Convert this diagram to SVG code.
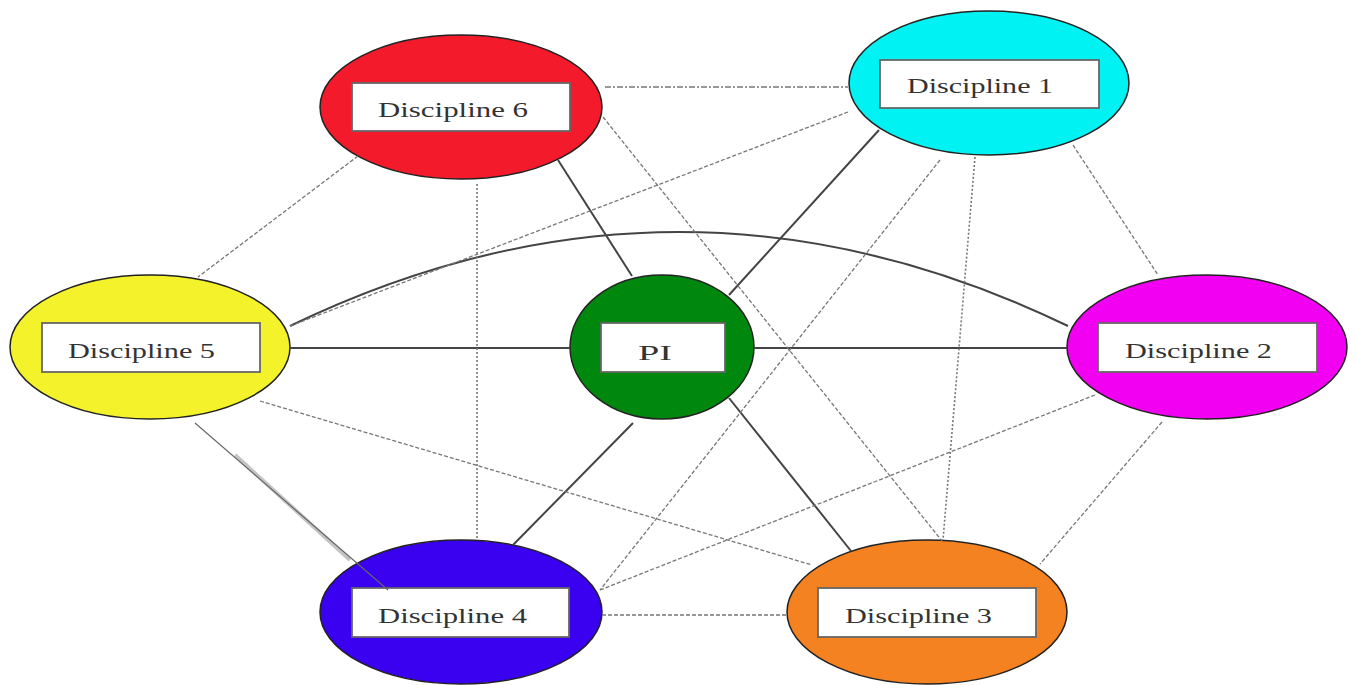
<svg xmlns="http://www.w3.org/2000/svg" width="1357" height="685" viewBox="0 0 1357 685">
<style>
.ell{stroke:#222;stroke-width:1.5}
.box{fill:#fff;stroke:#666;stroke-width:1.8}
.lbl{font-family:"Liberation Serif","Times New Roman",serif;font-size:22px;fill:#333}
.solid{fill:none;stroke:#444;stroke-width:2}
.dash{fill:none;stroke:#777;stroke-width:1.3;stroke-dasharray:4 2}
.dot{fill:none;stroke:#777;stroke-width:1.6;stroke-dasharray:2 2}
.dashdot{fill:none;stroke:#777;stroke-width:1.4;stroke-dasharray:6 2 2 2}
</style>
<rect width="1357" height="685" fill="#fff"/>
<g id="node-d6">
<ellipse class="ell" cx="461" cy="107" rx="141" ry="72" fill="#f31a2b"/>
<rect class="box" x="352" y="83" width="218" height="48"/>
<text class="lbl" x="378" y="117" textLength="150" lengthAdjust="spacingAndGlyphs">Discipline 6</text>
</g>
<g id="node-d1">
<ellipse class="ell" cx="989" cy="83" rx="140" ry="72" fill="#00f2f2"/>
<rect class="box" x="880" y="60" width="219" height="48"/>
<text class="lbl" x="907" y="93" textLength="146" lengthAdjust="spacingAndGlyphs">Discipline 1</text>
</g>
<g id="node-d5">
<ellipse class="ell" cx="150" cy="347" rx="140" ry="72" fill="#f4f22b"/>
<rect class="box" x="42" y="323" width="218" height="49"/>
<text class="lbl" x="68" y="358" textLength="147" lengthAdjust="spacingAndGlyphs">Discipline 5</text>
</g>
<g id="node-pi">
<ellipse class="ell" cx="662" cy="347" rx="92" ry="72" fill="#00880e"/>
<rect class="box" x="601" y="323" width="124" height="49"/>
<text class="lbl" x="638" y="360" textLength="34" lengthAdjust="spacingAndGlyphs">PI</text>
</g>
<g id="node-d2">
<ellipse class="ell" cx="1207" cy="347" rx="140" ry="72" fill="#f200f2"/>
<rect class="box" x="1098" y="323" width="219" height="49"/>
<text class="lbl" x="1125" y="358" textLength="147" lengthAdjust="spacingAndGlyphs">Discipline 2</text>
</g>
<g id="node-d4">
<ellipse class="ell" cx="461" cy="612" rx="141" ry="72" fill="#3a00f0"/>
<rect class="box" x="352" y="588" width="217" height="49"/>
<text class="lbl" x="378" y="623" textLength="149" lengthAdjust="spacingAndGlyphs">Discipline 4</text>
</g>
<g id="node-d3">
<ellipse class="ell" cx="927" cy="612" rx="140" ry="72" fill="#f58220"/>
<rect class="box" x="818" y="588" width="218" height="49"/>
<text class="lbl" x="845" y="623" textLength="147" lengthAdjust="spacingAndGlyphs">Discipline 3</text>
</g>
<g id="connectors">
<line class="solid" x1="290" y1="348" x2="570" y2="348"/>
<line class="solid" x1="754" y1="348" x2="1067" y2="348"/>
<line class="solid" x1="558" y1="160" x2="632" y2="276"/>
<line class="solid" x1="879" y1="130" x2="729" y2="295"/>
<line class="solid" x1="729" y1="398" x2="851" y2="551"/>
<line class="solid" x1="633" y1="423" x2="513" y2="545"/>
<path class="solid" d="M290 326 Q679 138 1068 326"/>
<line class="dashdot" x1="605" y1="87" x2="848" y2="87"/>
<line class="dash" x1="848" y1="112" x2="290" y2="326"/>
<line class="dash" x1="358" y1="156" x2="198" y2="277"/>
<line class="dot" x1="477" y1="184" x2="477" y2="539"/>
<line class="dash" x1="603" y1="117" x2="942" y2="541"/>
<line class="dot" x1="975" y1="157" x2="943" y2="540"/>
<line class="dash" x1="940" y1="160" x2="600" y2="590"/>
<line class="dash" x1="1073" y1="145" x2="1158" y2="275"/>
<line class="dash" x1="1095" y1="395" x2="600" y2="590"/>
<line class="dash" x1="1162" y1="422" x2="1040" y2="564"/>
<line class="dash" x1="260" y1="401" x2="812" y2="565"/>
<line x1="235" y1="455" x2="350" y2="560" stroke="#c4c4c4" stroke-width="4"/>
<line x1="195" y1="423" x2="388" y2="590" stroke="#666" stroke-width="1.2"/>
<line class="dash" x1="602" y1="615" x2="787" y2="615"/>
</g>
</svg>
